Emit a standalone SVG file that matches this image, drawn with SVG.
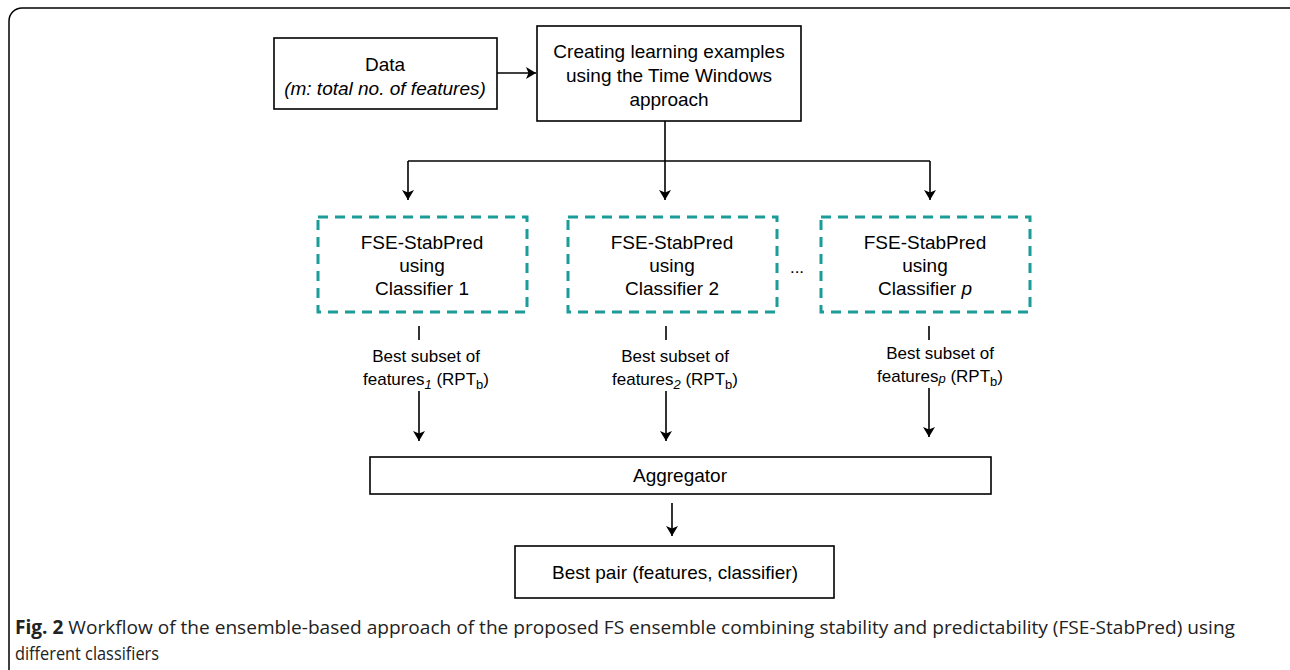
<svg xmlns="http://www.w3.org/2000/svg" width="1290" height="670" viewBox="0 0 1290 670">
<defs>
<style>
.box{fill:#fff;stroke:#000;stroke-width:1.6}
.dash{fill:none;stroke:#1a9c98;stroke-width:3;stroke-dasharray:10 7}
.t{font-family:"Liberation Sans",Arial,sans-serif;font-size:19px;fill:#000;text-anchor:middle}
.s{font-family:"Liberation Sans",Arial,sans-serif;font-size:17px;fill:#000;text-anchor:middle}
.ln{fill:none;stroke:#000;stroke-width:1.6}
.cap{font-family:"Open Sans","Liberation Sans",sans-serif;font-size:19px;fill:#222}
</style>
<marker id="arr" viewBox="0 0 10 12" refX="10" refY="6" markerWidth="10" markerHeight="12" markerUnits="userSpaceOnUse" orient="auto">
<path d="M0,0 L10,6 L0,12 L2.5,6 z" fill="#000"/>
</marker>
</defs>
<rect width="1290" height="670" fill="#fff"/>
<rect x="9" y="8" width="1300" height="675" rx="13" fill="none" stroke="#000" stroke-width="1.5"/>

<g id="data">
<rect class="box" x="274" y="38" width="223" height="71"/>
<text class="t" x="385" y="71">Data</text>
<text class="t" x="385" y="95" font-style="italic">(m: total no. of features)</text>
</g>
<g id="creating">
<rect class="box" x="537" y="26" width="264" height="95"/>
<text class="t" x="669" y="58">Creating learning examples</text>
<text class="t" x="669" y="82">using the Time Windows</text>
<text class="t" x="669" y="106">approach</text>
</g>
<g id="fse1">
<rect class="dash" x="318" y="217" width="209" height="95"/>
<text class="t" x="422" y="249">FSE-StabPred</text>
<text class="t" x="422" y="272">using</text>
<text class="t" x="422" y="295">Classifier 1</text>
</g>
<g id="fse2">
<rect class="dash" x="568" y="217" width="209" height="95"/>
<text class="t" x="672" y="249">FSE-StabPred</text>
<text class="t" x="672" y="272">using</text>
<text class="t" x="672" y="295">Classifier 2</text>
</g>
<text class="s" x="797" y="273">...</text>
<g id="fsep">
<rect class="dash" x="821" y="217" width="209" height="95"/>
<text class="t" x="925" y="249">FSE-StabPred</text>
<text class="t" x="925" y="272">using</text>
<text class="t" x="925" y="295">Classifier <tspan font-style="italic">p</tspan></text>
</g>
<g id="aggregator">
<rect class="box" x="370" y="457" width="621" height="37"/>
<text class="t" x="680" y="482">Aggregator</text>
</g>
<g id="bestpair">
<rect class="box" x="515" y="546" width="319" height="52"/>
<text class="t" x="675" y="579">Best pair (features, classifier)</text>
</g>

<g id="connectors">
<line class="ln" x1="497" y1="73" x2="536" y2="73" marker-end="url(#arr)"/>
<line class="ln" x1="665" y1="121" x2="665" y2="161"/>
<line class="ln" x1="408" y1="161" x2="930" y2="161"/>
<line class="ln" x1="408" y1="161" x2="408" y2="200" marker-end="url(#arr)"/>
<line class="ln" x1="665" y1="161" x2="665" y2="200" marker-end="url(#arr)"/>
<line class="ln" x1="930" y1="161" x2="930" y2="200" marker-end="url(#arr)"/>
<line class="ln" x1="419" y1="326" x2="419" y2="340"/>
<line class="ln" x1="419" y1="391" x2="419" y2="441" marker-end="url(#arr)"/>
<line class="ln" x1="666" y1="326" x2="666" y2="340"/>
<line class="ln" x1="666" y1="391" x2="666" y2="441" marker-end="url(#arr)"/>
<line class="ln" x1="929" y1="326" x2="929" y2="340"/>
<line class="ln" x1="929" y1="388" x2="929" y2="437" marker-end="url(#arr)"/>
<line class="ln" x1="672" y1="503" x2="672" y2="536" marker-end="url(#arr)"/>
<text class="s" x="426" y="362">Best subset of</text>
<text class="s" x="426" y="385">features<tspan font-size="13" font-style="italic" dy="4">1</tspan><tspan dy="-4"> (RPT</tspan><tspan font-size="13" dy="4">b</tspan><tspan dy="-4">)</tspan></text>
<text class="s" x="675" y="362">Best subset of</text>
<text class="s" x="675" y="385">features<tspan font-size="13" font-style="italic" dy="4">2</tspan><tspan dy="-4"> (RPT</tspan><tspan font-size="13" dy="4">b</tspan><tspan dy="-4">)</tspan></text>
<text class="s" x="940" y="359">Best subset of</text>
<text class="s" x="940" y="382">features<tspan font-size="13" font-style="italic" dy="1">p</tspan><tspan dy="-1"> (RPT</tspan><tspan font-size="13" dy="4">b</tspan><tspan dy="-4">)</tspan></text>
</g>

<text class="cap" x="15" y="634" textLength="1220" lengthAdjust="spacingAndGlyphs"><tspan font-weight="bold">Fig. 2</tspan> Workflow of the ensemble-based approach of the proposed FS ensemble combining stability and predictability (FSE-StabPred) using</text>
<text class="cap" x="15" y="660" textLength="144" lengthAdjust="spacingAndGlyphs">different classifiers</text>
</svg>
